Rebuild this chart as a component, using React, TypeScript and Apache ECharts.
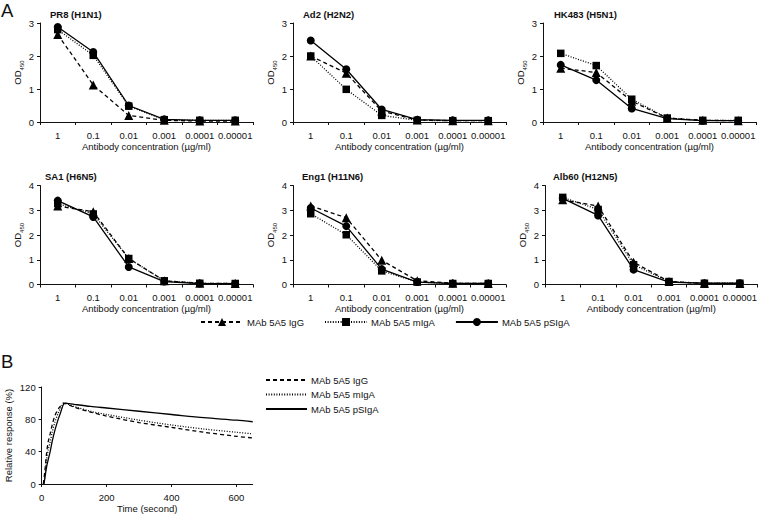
import React, { useEffect, useRef } from "react";
import * as echarts from "echarts";

const CATS = ["1", "0.1", "0.01", "0.001", "0.0001", "0.00001"];
const NAMES = ["MAb 5A5 IgG", "MAb 5A5 mIgA", "MAb 5A5 pSIgA"];

const PR8_IGG = [2.65, 1.12, 0.2, 0.05, 0.03, 0.03];
const PR8_MIGA = [2.8, 2.02, 0.48, 0.07, 0.05, 0.05];
const PR8_PSIGA = [2.88, 2.12, 0.5, 0.08, 0.05, 0.05];
const AD2_IGG = [2.0, 1.48, 0.33, 0.06, 0.04, 0.04];
const AD2_MIGA = [2.0, 0.99, 0.2, 0.05, 0.04, 0.04];
const AD2_PSIGA = [2.47, 1.6, 0.38, 0.07, 0.05, 0.05];
const HK_IGG = [1.63, 1.5, 0.63, 0.12, 0.05, 0.04];
const HK_MIGA = [2.08, 1.71, 0.69, 0.12, 0.05, 0.05];
const HK_PSIGA = [1.73, 1.27, 0.41, 0.1, 0.04, 0.04];
const SA1_IGG = [3.17, 2.94, 1.05, 0.15, 0.05, 0.04];
const SA1_MIGA = [3.27, 2.85, 1.05, 0.15, 0.05, 0.04];
const SA1_PSIGA = [3.39, 2.73, 0.71, 0.12, 0.04, 0.03];
const ENG_IGG = [3.17, 2.7, 0.98, 0.15, 0.05, 0.04];
const ENG_MIGA = [2.86, 2.01, 0.55, 0.1, 0.04, 0.04];
const ENG_PSIGA = [3.09, 2.36, 0.62, 0.1, 0.04, 0.04];
const ALB_IGG = [3.42, 3.17, 0.9, 0.12, 0.04, 0.04];
const ALB_MIGA = [3.52, 3.03, 0.8, 0.12, 0.05, 0.05];
const ALB_PSIGA = [3.48, 2.79, 0.6, 0.1, 0.05, 0.05];

const B_IGG_T = [5, 10, 15, 20, 26, 33, 41, 50, 57, 66, 100, 150, 200, 300, 400, 500, 600, 650];
const B_IGG_V = [0, 17, 38, 52, 62, 74, 85, 92, 96, 100, 95, 89, 84, 76, 70, 64, 59, 57];
const B_MIGA_T = [6, 10, 15, 20, 26, 33, 41, 50, 57, 70, 100, 150, 200, 300, 400, 500, 600, 650];
const B_MIGA_V = [0, 10, 30, 42, 52, 65, 77, 87, 93, 100, 96, 90, 86, 79, 73, 68, 64, 62];
const B_PSIGA_T = [7, 10, 15, 20, 26, 33, 41, 50, 57, 72, 100, 150, 200, 300, 400, 500, 600, 650];
const B_PSIGA_V = [0, 8, 21, 30, 40, 54, 67, 79, 87, 100, 98.5, 96, 94, 90, 86, 82, 79, 77];

const PANELS = [
  { title: "PR8 (H1N1)", max: 3, data: [PR8_IGG, PR8_MIGA, PR8_PSIGA] },
  { title: "Ad2 (H2N2)", max: 3, data: [AD2_IGG, AD2_MIGA, AD2_PSIGA] },
  { title: "HK483 (H5N1)", max: 3, data: [HK_IGG, HK_MIGA, HK_PSIGA] },
  { title: "SA1 (H6N5)", max: 4, data: [SA1_IGG, SA1_MIGA, SA1_PSIGA] },
  { title: "Eng1 (H11N6)", max: 4, data: [ENG_IGG, ENG_MIGA, ENG_PSIGA] },
  { title: "Alb60 (H12N5)", max: 4, data: [ALB_IGG, ALB_MIGA, ALB_PSIGA] },
];

const LAYOUT = [
  { left: 40, top: 23, titleX: 50, titleY: 9 },
  { left: 293, top: 23, titleX: 303, titleY: 9 },
  { left: 543, top: 23, titleX: 554, titleY: 9 },
  { left: 40, top: 185.5, titleX: 45, titleY: 171 },
  { left: 293, top: 185.5, titleX: 302, titleY: 171 },
  { left: 545, top: 185.5, titleX: 553, titleY: 171 },
];

const FONT = "Liberation Sans, Arial, sans-serif";
const INK = "#111";
const FS = 9.5;
const STYLES = [
  { type: [4, 3] as any, symbol: "triangle", size: 9 },
  { type: [1, 1.6] as any, symbol: "rect", size: 7.5 },
  { type: "solid", symbol: "circle", size: 8 },
];

export default function App() {
  const ref = useRef<HTMLDivElement>(null);
  useEffect(() => {
    if (!ref.current) return;
    const chart = echarts.init(ref.current, null, { renderer: "svg" });
    const grids: any[] = [];
    const xAxes: any[] = [];
    const yAxes: any[] = [];
    const series: any[] = [];
    const titles: any[] = [
      { text: "A", left: 1, top: 1, padding: 0, textStyle: { fontFamily: FONT, fontSize: 18.5, fontWeight: "normal", color: INK } },
      { text: "B", left: 1, top: 352, padding: 0, textStyle: { fontFamily: FONT, fontSize: 18.5, fontWeight: "normal", color: INK } },
    ];
    const axisLine = { show: true, lineStyle: { color: INK, width: 1 } };
    const axisTick = { show: true, length: 3, lineStyle: { color: INK } };
    PANELS.forEach((p, i) => {
      const L = LAYOUT[i];
      grids.push({ left: L.left, top: L.top, width: 213, height: 99, containLabel: false });
      titles.push({
        text: p.title, left: L.titleX, top: L.titleY, padding: 0,
        textStyle: { fontFamily: FONT, fontSize: 9.5, fontWeight: "bold", color: INK },
      });
      xAxes.push({
        type: "category", gridIndex: i, data: CATS, boundaryGap: true,
        axisLine, axisTick: { ...axisTick, alignWithLabel: false },
        axisLabel: { fontFamily: FONT, fontSize: FS, color: INK, margin: 8, interval: 0 },
        name: "Antibody concentration (µg/ml)", nameLocation: "middle", nameGap: 19,
        nameTextStyle: { fontFamily: FONT, fontSize: FS, color: INK },
        splitLine: { show: false },
      });
      yAxes.push({
        type: "value", gridIndex: i, min: 0, max: p.max, interval: 1,
        axisLine, axisTick,
        axisLabel: { fontFamily: FONT, fontSize: FS, color: INK, margin: 6 },
        splitLine: { show: false },
        name: "{a|OD}{b|450}", nameLocation: "middle", nameGap: 15, nameRotate: 90,
        nameTextStyle: {
          fontFamily: FONT, color: INK,
          rich: {
            a: { fontFamily: FONT, fontSize: FS, color: INK, lineHeight: 12, verticalAlign: "bottom" },
            b: { fontFamily: FONT, fontSize: 6, color: INK, lineHeight: 12, verticalAlign: "bottom", padding: [0, 0, -2, 0] },
          },
        },
      });
      p.data.forEach((vals, k) => {
        const s = STYLES[k];
        series.push({
          type: "line", name: NAMES[k], xAxisIndex: i, yAxisIndex: i, data: vals,
          symbol: s.symbol, symbolSize: s.size, showSymbol: true,
          lineStyle: { color: "#000", width: 1.3, type: s.type },
          itemStyle: { color: "#000" },
          z: 2 + k,
        });
      });
    });
    // Panel B
    const bi = PANELS.length;
    grids.push({ left: 41.7, top: 387, width: 211, height: 97, containLabel: false });
    xAxes.push({
      type: "value", gridIndex: bi, min: 0, max: 650, interval: 200,
      axisLine, axisTick,
      axisLabel: {
        fontFamily: FONT, fontSize: FS, color: INK, margin: 8, showMaxLabel: false,
        formatter: (v: number) => (v % 200 === 0 ? String(v) : ""),
      },
      splitLine: { show: false },
      name: "Time (second)", nameLocation: "middle", nameGap: 19,
      nameTextStyle: { fontFamily: FONT, fontSize: FS, color: INK },
    });
    yAxes.push({
      type: "value", gridIndex: bi, min: 0, max: 120, interval: 40,
      axisLine, axisTick,
      axisLabel: { fontFamily: FONT, fontSize: FS, color: INK, margin: 6 },
      splitLine: { show: false },
      name: "Relative response (%)", nameLocation: "middle", nameGap: 28, nameRotate: 90,
      nameTextStyle: { fontFamily: FONT, fontSize: FS, color: INK },
    });
    const bData = [
      [B_IGG_T, B_IGG_V],
      [B_MIGA_T, B_MIGA_V],
      [B_PSIGA_T, B_PSIGA_V],
    ];
    const bNames = ["B IgG", "B mIgA", "B pSIgA"];
    bData.forEach(([t, v], k) => {
      series.push({
        type: "line", name: bNames[k], xAxisIndex: bi, yAxisIndex: bi,
        data: t.map((x, j) => [x, v[j]]), symbol: "none", smooth: 0.3,
        lineStyle: { color: "#000", width: 1.3, type: STYLES[k].type },
        itemStyle: { color: "#000" },
      });
    });
    const bLabel: Record<string, string> = { "B IgG": NAMES[0], "B mIgA": NAMES[1], "B pSIgA": NAMES[2] };
    chart.setOption({
      animation: false,
      backgroundColor: "#fff",
      title: titles,
      grid: grids,
      xAxis: xAxes,
      yAxis: yAxes,
      series,
      legend: [
        {
          data: NAMES, left: 200, top: 317, itemWidth: 42, itemHeight: 10, itemGap: 20,
          selectedMode: false, padding: 0,
          textStyle: { fontFamily: FONT, fontSize: FS, color: INK, padding: [0, 0, 0, -1] },
        },
        {
          data: bNames, left: 265, top: 375, orient: "vertical", itemWidth: 41, itemHeight: 10, itemGap: 4.5,
          selectedMode: false, padding: 0,
          itemStyle: { opacity: 0 },
          formatter: (n: string) => bLabel[n],
          textStyle: { fontFamily: FONT, fontSize: FS, color: INK, padding: [0, 0, 0, -1] },
        },
      ],
    });
    return () => chart.dispose();
  }, []);
  return <div ref={ref} style={{ position: "fixed", left: 0, top: 0, width: 760, height: 515 }} />;
}
